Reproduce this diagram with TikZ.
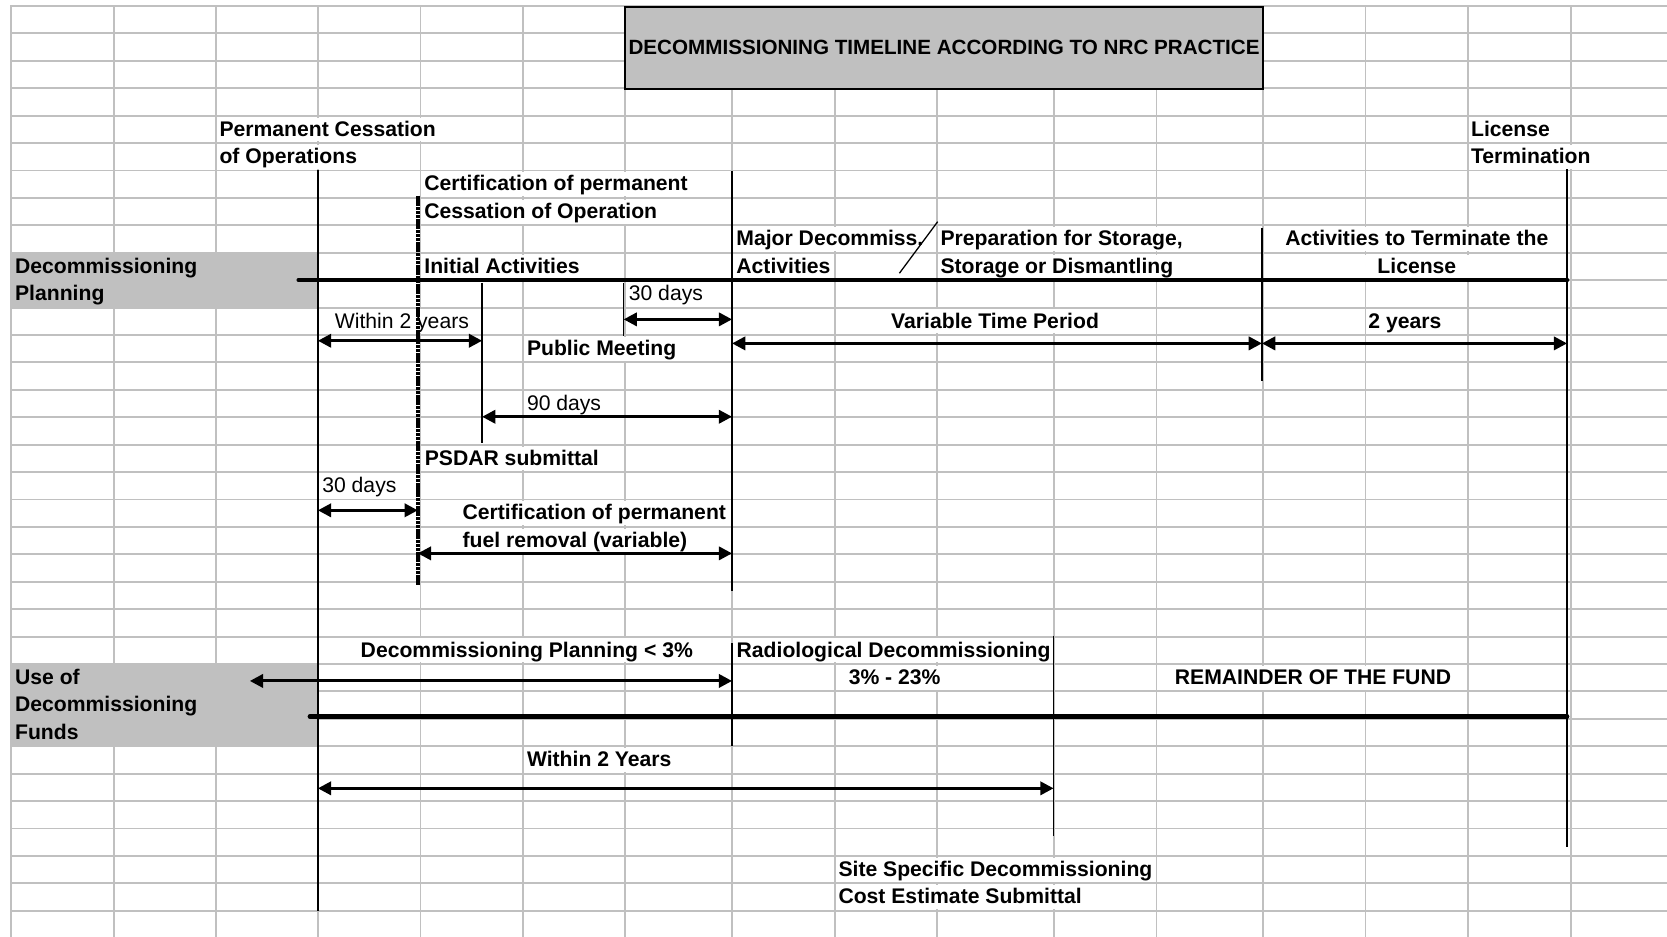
\documentclass[tikz,border=0pt]{standalone}
\usepackage{fontspec}
\setmainfont{Liberation Sans}
\usetikzlibrary{arrows.meta}
\definecolor{gridc}{RGB}{192,192,192}
\definecolor{cellgray}{RGB}{192,192,192}
\begin{document}
\begin{tikzpicture}[x=1pt,y=-1pt,
  gridline/.style={draw=gridc,line width=1.8pt},
  txt/.style={font=\fontsize{19.9}{23}\selectfont\bfseries, inner xsep=1pt, inner ysep=0pt,
              text height=17.5pt, text depth=5pt, fill=white, anchor=base west},
  rtxt/.style={txt, font=\fontsize{19.9}{23}\selectfont},
  ctxt/.style={txt, anchor=base},
  graytxt/.style={txt, fill=none},
  titlebox/.style={draw, line width=2pt, fill=cellgray, minimum width=600pt, minimum height=77.4pt,
              inner sep=0pt, font=\fontsize{19.4}{23}\selectfont\bfseries},
  marker/.style={draw, line width=1.4pt},
  dotmark/.style={draw, line width=3.2pt, dash pattern=on 3pt off 0.6pt},
  timeline/.style={draw, line width=4.3pt, line cap=round},
  span/.style={draw, line width=2.8pt, {Triangle[length=12.5pt,width=12.5pt]}-{Triangle[length=12.5pt,width=12.5pt]}},
]
\useasboundingbox (0,0) rectangle (1568,881);
\fill[white] (0,0) rectangle (1568,881);

% spreadsheet grid
\foreach \x in {10.7,106.9,203.2,299,395.5,492.1,588,688.6,785.4,881.2,991.4,1087.8,1188,1284.4,1381,1477.5}
  \draw[gridline] (\x,5.6) -- (\x,881);
\foreach \k in {0,...,33}
  \draw[gridline] (9.8,{5.6+25.79*\k}) -- (1568,{5.6+25.79*\k});

% grey cells
\fill[cellgray] (10.7,237.71) rectangle (299,290.2);
\fill[cellgray] (10.7,624.56) rectangle (299,702.4);

% title
\node[titlebox] (title) at (888,45) {DECOMMISSIONING TIMELINE ACCORDING TO NRC PRACTICE};

% labels
\node[txt] (pcoA) at (205.3,128.05) {Permanent Cessation};
\node[txt] (pcoB) at (205.3,153.84) {of Operations};
\node[txt] (ccoA) at (398,179.63) {Certification of permanent};
\node[txt] (ccoB) at (398,205.42) {Cessation of Operation};
\node[txt] (ltA) at (1382.5,128.05) {License};
\node[txt] (ltB) at (1382.5,153.84) {Termination};
\node[txt] (mdA) at (691.5,231.21) {Major Decommiss.};
\node[txt] (mdB) at (691.5,257) {Activities};
\node[txt] (psA) at (883.5,231.21) {Preparation for Storage,};
\node[txt] (psB) at (883.5,257) {Storage or Dismantling};
\node[ctxt, minimum width=286pt] (atA) at (1332.7,231.21) {Activities to Terminate the};
\node[ctxt, minimum width=286pt] (atB) at (1332.7,257) {License};
\node[graytxt] (dpA) at (13,257) {Decommissioning};
\node[graytxt] (dpB) at (13,282.79) {Planning};
\node[txt] (ia) at (398,257) {Initial Activities};
\node[rtxt] (d30a) at (590.3,282.79) {30 days};
\node[rtxt] (w2y) at (313.8,308.58) {Within 2 years};
\node[ctxt] (vtp) at (936,308.58) {Variable Time Period};
\node[ctxt] (twoy) at (1321.5,308.58) {2 years};
\node[txt] (pm) at (494.5,334.37) {Public Meeting};
\node[rtxt] (d90) at (494.5,385.95) {90 days};
\node[txt] (psdar) at (398.4,437.53) {PSDAR submittal};
\node[rtxt] (d30b) at (302,463.32) {30 days};
\node[txt] (cfA) at (434,489.11) {Certification of permanent};
\node[txt] (cfB) at (434,514.9) {fuel removal (variable)};
\node[ctxt] (dp3) at (495.5,618.06) {Decommissioning Planning < 3\%};
\node[txt] (rdA) at (691.7,618.06) {Radiological Decommissioning};
\node[ctxt] (rdB) at (841.5,643.85) {3\% - 23\%};
\node[ctxt] (rem) at (1235,643.85) {REMAINDER OF THE FUND};
\node[graytxt] (ufA) at (13,643.85) {Use of};
\node[graytxt] (ufB) at (13,669.64) {Decommissioning};
\node[graytxt] (ufC) at (13,695.43) {Funds};
\node[txt] (w2Y) at (494.5,721.22) {Within 2 Years};
\node[txt] (ssA) at (787.5,824.38) {Site Specific Decommissioning};
\node[txt] (ssB) at (787.5,850.17) {Cost Estimate Submittal};

% milestone markers
\coordinate (pcTop) at (299,160.3);   \coordinate (pcBot) at (299,856.6);
\coordinate (ccTop) at (393,184);     \coordinate (ccBot) at (393,550);
\coordinate (mdTop) at (688.6,160.6); \coordinate (mdBot) at (688.6,556);
\coordinate (ltTop) at (1474,159);    \coordinate (ltBot) at (1474,797);
\coordinate (atTop) at (1187,214);    \coordinate (atBot) at (1187,358);
\coordinate (m30Top) at (586.6,266);  \coordinate (m30Bot) at (586.6,316);
\coordinate (pmTop) at (453.5,266);   \coordinate (pmBot) at (453.5,417);
\coordinate (ssTop) at (991,598);     \coordinate (ssBot) at (991,786.5);
\coordinate (rdTop) at (688.6,605);   \coordinate (rdBot) at (688.6,702);

\draw[marker] (pcTop) -- (pcBot);
\draw[dotmark] (ccTop) -- (ccBot);
\draw[marker] (mdTop) -- (mdBot);
\draw[marker] (ltTop) -- (ltBot);
\draw[marker] (atTop) -- (atBot);
\draw[marker] (m30Top) -- (m30Bot);
\draw[marker] (pmTop) -- (pmBot);
\draw[marker] (ssTop) -- (ssBot);
\draw[marker] (rdTop) -- (rdBot);

% slash between phases
\coordinate (slA) at (846,257); \coordinate (slB) at (882,208.5);
\draw[line width=1.2pt] (slA) -- (slB);

% time lines
\coordinate (tlA) at (281,263.4);   \coordinate (tlB) at (1474,263.4);
\coordinate (tfA) at (291.5,674);   \coordinate (tfB) at (1474,674);
\draw[timeline] (tlA) -- (tlB);
\draw[timeline] (tfA) -- (tfB);

% duration arrows
\coordinate (a1L) at (299,320.5);   \coordinate (a1R) at (453.5,320.5);
\coordinate (a2L) at (586.6,300.4); \coordinate (a2R) at (688.6,300.4);
\coordinate (a3L) at (688.6,323);   \coordinate (a3R) at (1187,323);
\coordinate (a4L) at (1187,323);    \coordinate (a4R) at (1474,323);
\coordinate (a5L) at (453.5,392);   \coordinate (a5R) at (688.6,392);
\coordinate (a6L) at (299,480);     \coordinate (a6R) at (393,480);
\coordinate (a7L) at (393,520.5);   \coordinate (a7R) at (688.6,520.5);
\coordinate (a8L) at (235,640.5);   \coordinate (a8R) at (688.6,640.5);
\coordinate (a9L) at (299,741.5);   \coordinate (a9R) at (991,741.5);
\foreach \i in {1,...,9} \draw[span] (a\i L) -- (a\i R);
\end{tikzpicture}
\end{document}
